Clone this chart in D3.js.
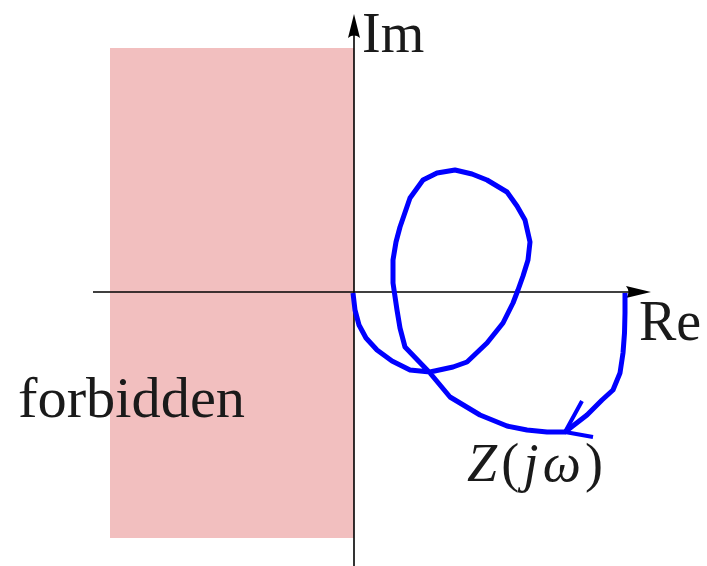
<!DOCTYPE html>
<html>
<head>
<meta charset="utf-8">
<script src="https://cdn.jsdelivr.net/npm/d3@7"></script>
<style>
  html, body { margin: 0; padding: 0; background: #fff; }
  svg { display: block; }
  text { font-family: "Liberation Serif", "DejaVu Serif", serif; fill: #1a1a1a; }
</style>
</head>
<body>
<script>
// Complex-plane extents (Re, Im) covered by the drawn axes
const reExtent = [-2.61, 2.97];
const imExtent = [-2.74, 2.78];

// Forbidden half-plane region (Re < 0)
const forbiddenRe = [-2.44, 0];
const forbiddenIm = [-2.46, 2.44];

// Nyquist-style locus of Z(jω), as [Re, Im]
const locusRe = [2.71, 2.71, 2.705, 2.69, 2.66, 2.59, 2.48, 2.33, 2.11, 1.93, 1.73, 1.53, 1.26, 0.96, 0.76, 0.51, 0.46, 0.43, 0.39, 0.39, 0.42, 0.46, 0.56, 0.69, 0.83, 1.01, 1.18, 1.33, 1.53, 1.63, 1.71, 1.76, 1.74, 1.69, 1.64, 1.59, 1.49, 1.33, 1.13, 0.99, 0.76, 0.56, 0.38, 0.23, 0.12, 0.05, 0.01, -0.01];
const locusIm = [-0.01, -0.21, -0.41, -0.61, -0.81, -0.98, -1.08, -1.23, -1.40, -1.40, -1.38, -1.34, -1.23, -1.05, -0.81, -0.55, -0.36, -0.18, 0.09, 0.32, 0.50, 0.65, 0.94, 1.12, 1.19, 1.22, 1.18, 1.12, 1.00, 0.86, 0.72, 0.50, 0.32, 0.16, 0.02, -0.11, -0.31, -0.51, -0.70, -0.75, -0.80, -0.78, -0.69, -0.58, -0.46, -0.33, -0.18, -0.01];

// Direction marker on the locus: barb end, tip, barb end
const arrowRe = [2.28, 2.11, 2.39];
const arrowIm = [-1.09, -1.40, -1.45];

const width = 707, height = 566;

const x = d3.scaleLinear().domain(reExtent).range([93, 651]);
const y = d3.scaleLinear().domain(imExtent).range([566, 14]);

const svg = d3.select("body").append("svg")
  .attr("width", width)
  .attr("height", height);

// forbidden region
svg.append("rect")
  .attr("x", x(forbiddenRe[0]))
  .attr("y", y(forbiddenIm[1]))
  .attr("width", x(forbiddenRe[1]) - x(forbiddenRe[0]))
  .attr("height", y(forbiddenIm[0]) - y(forbiddenIm[1]))
  .attr("fill", "#f2bfbf");

// axes
const axisG = svg.append("g").attr("stroke", "#000").attr("stroke-width", 1.6);
axisG.append("line")
  .attr("x1", x(reExtent[0])).attr("x2", x(reExtent[1]) - 20)
  .attr("y1", y(0)).attr("y2", y(0));
axisG.append("line")
  .attr("x1", x(0)).attr("x2", x(0))
  .attr("y1", y(imExtent[0])).attr("y2", y(imExtent[1]) + 18);

// arrow heads (stealth-like, concave back)
function arrowHead(tx, ty, angle, len, half) {
  const c = Math.cos(angle), s = Math.sin(angle);
  const pt = (u, v) => [tx + u * c - v * s, ty + u * s + v * c];
  const p = d3.path();
  const a = pt(0, 0), b = pt(-len, -half), m = pt(-len * 0.8, 0), d = pt(-len, half);
  p.moveTo(a[0], a[1]);
  p.lineTo(b[0], b[1]);
  p.quadraticCurveTo(m[0], m[1], d[0], d[1]);
  p.closePath();
  return p.toString();
}
svg.append("path")
  .attr("d", arrowHead(x(reExtent[1]), y(0), 0, 25, 6))
  .attr("fill", "#000");
svg.append("path")
  .attr("d", arrowHead(x(0), y(imExtent[1]), -Math.PI / 2, 24, 6))
  .attr("fill", "#000");

// locus
const locus = locusRe.map((r, i) => [r, locusIm[i]]);
const line = d3.line().x(d => x(d[0])).y(d => y(d[1]));
svg.append("path")
  .attr("d", line(locus))
  .attr("fill", "none")
  .attr("stroke", "#0000ff")
  .attr("stroke-width", 5)
  .attr("stroke-linejoin", "round")
  .attr("stroke-linecap", "butt");

const arrow = arrowRe.map((r, i) => [r, arrowIm[i]]);
svg.append("path")
  .attr("d", line(arrow))
  .attr("fill", "none")
  .attr("stroke", "#0000ff")
  .attr("stroke-width", 4)
  .attr("stroke-linejoin", "miter");

// labels
svg.append("text")
  .attr("x", x(0) + 8).attr("y", 52)
  .attr("font-size", 56)
  .text("Im");

svg.append("text")
  .attr("x", 639).attr("y", 340)
  .attr("font-size", 56)
  .text("Re");

svg.append("text")
  .attr("x", 18).attr("y", 417)
  .attr("font-size", 56)
  .attr("textLength", 227)
  .attr("lengthAdjust", "spacingAndGlyphs")
  .text("forbidden");

const z = svg.append("text")
  .attr("x", 467).attr("y", 481)
  .attr("font-size", 54)
  .attr("textLength", 136)
  .attr("lengthAdjust", "spacing");
z.append("tspan").attr("font-style", "italic").text("Z");
z.append("tspan").text("(");
z.append("tspan").attr("font-style", "italic").text("jω");
z.append("tspan").text(")");
</script>
</body>
</html>
